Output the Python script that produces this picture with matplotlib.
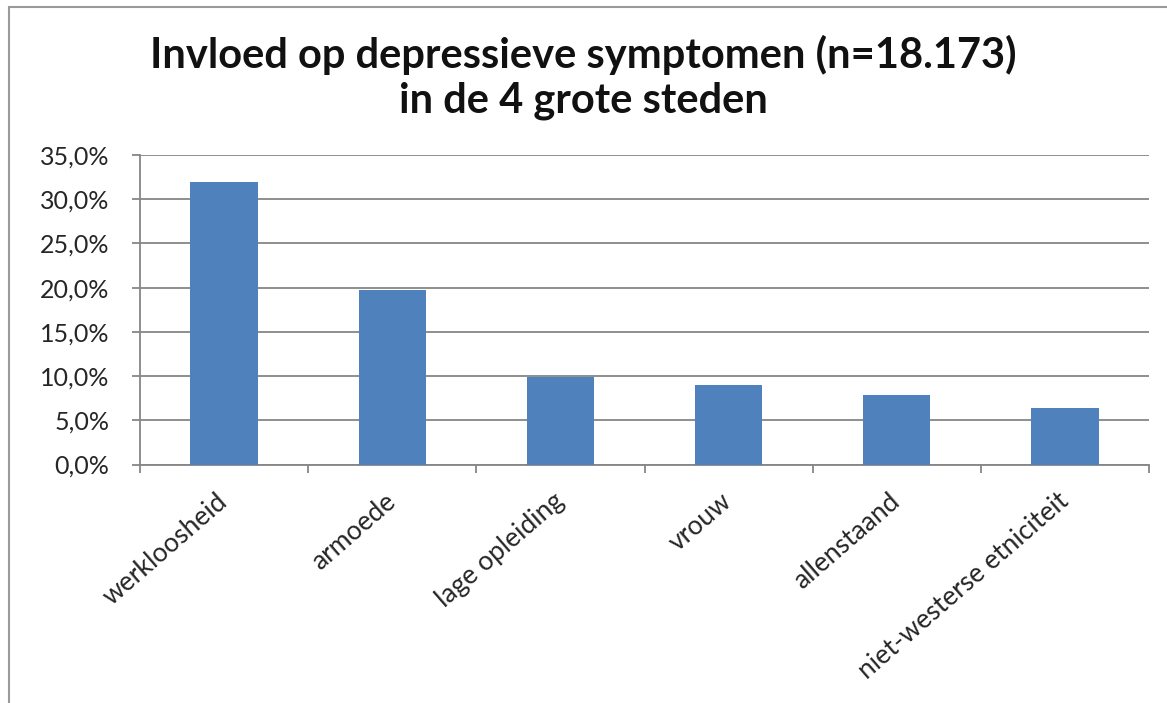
import matplotlib
matplotlib.use("Agg")
import matplotlib.pyplot as plt
from matplotlib.ticker import FuncFormatter, FixedLocator
from matplotlib.patches import Rectangle

categories = ["werkloosheid", "armoede", "lage opleiding", "vrouw", "allenstaand", "niet-westerse etniciteit"]
values = [31.9, 19.7, 9.9, 9.0, 7.9, 6.4]
title_lines = ["Invloed op depressieve symptomen (n=18.173)", "in de 4 grote steden"]

plt.rcParams['font.family'] = ['Lato', 'DejaVu Sans']

fig = plt.figure(figsize=(11.67, 7.03), dpi=100)
ax = fig.add_axes([140/1167, 1-464.5/703, (1149-140)/1167, (464.5-155)/703])

x = list(range(len(categories)))
ax.bar(x, values, width=0.4, color="#4F81BD", zorder=3)

ax.set_xlim(-0.5, len(categories) - 0.5)
ax.set_ylim(0, 35)
ax.set_yticks([0, 5, 10, 15, 20, 25, 30, 35])
ax.yaxis.set_major_formatter(FuncFormatter(lambda v, p: f"{v:.1f}%".replace(".", ",")))
ax.grid(axis="y", color="#868686", linewidth=1.3, zorder=0)

ax.set_xticks(x)
ax.set_xticklabels(categories, rotation=41, ha="right", va="center", rotation_mode="anchor",
                   fontsize=19, color="#262626")
ax.tick_params(axis="x", which="major", length=0, pad=24)
ax.xaxis.set_minor_locator(FixedLocator([i - 0.5 for i in range(len(categories) + 1)]))
ax.tick_params(axis="x", which="minor", length=6, color="#868686", width=1.3, direction="out")
ax.tick_params(axis="y", length=6, color="#868686", width=1.3, labelsize=18,
               labelcolor="#262626", pad=16)

for s in ["top", "right"]:
    ax.spines[s].set_visible(False)
for s in ["left", "bottom"]:
    ax.spines[s].set_color("#868686")
    ax.spines[s].set_linewidth(1.3)

fig.text(0.5, 1 - 55/703, title_lines[0], ha="center", va="center",
         fontsize=30, fontweight="bold", color="#111111")
fig.text(0.5, 1 - 101/703, title_lines[1], ha="center", va="center",
         fontsize=30, fontweight="bold", color="#111111")

fig.patches.append(Rectangle((9/1167, -0.1), 1.2, 1 - 7/703 + 0.1, transform=fig.transFigure,
                             fill=False, edgecolor="#9a9a9a", linewidth=1.5))

fig.savefig("out.png", dpi=100)
